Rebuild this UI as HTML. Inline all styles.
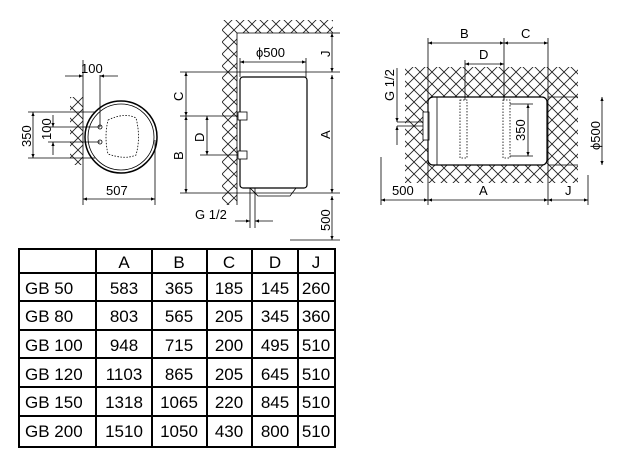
<!DOCTYPE html>
<html><head><style>
html,body{margin:0;padding:0;background:#fff;width:626px;height:466px;overflow:hidden}
svg{position:absolute;left:0;top:0}
text{font-family:"Liberation Sans",sans-serif;fill:#000}
</style></head><body>
<svg width="626" height="466" viewBox="0 0 626 466">
<defs>
<pattern id="h" width="12" height="12" patternUnits="userSpaceOnUse">
<path d="M0 0L12 12M12 0L0 12" stroke="#222" stroke-width="0.9"/>
</pattern>
<marker id="a" viewBox="0 0 10 10" refX="10" refY="5" markerWidth="7" markerHeight="5" orient="auto-start-reverse"><path d="M0 1L10 5L0 9z" fill="#000"/></marker>
</defs>
<g stroke="#000" stroke-width="0.8" fill="none">
<!-- left view -->
<rect x="70" y="97" width="13" height="68" fill="url(#h)" stroke="none"/>
<line x1="83" y1="60" x2="83" y2="205"/>
<circle cx="121" cy="137" r="36" stroke-width="1.5"/>
<circle cx="121" cy="137" r="33"/>
<path d="M108 120 Q125 112 136 118 Q141 137 136 155 Q125 160 108 154 Q104 137 108 120" stroke-dasharray="1.5 1.5"/>
<circle cx="100" cy="127" r="2"/><circle cx="100" cy="142" r="2"/>
<line x1="155" y1="140" x2="155" y2="205"/>
<line x1="100" y1="75" x2="100" y2="127"/>
<line x1="65" y1="76" x2="83" y2="76" marker-end="url(#a)"/>
<line x1="118" y1="76" x2="100" y2="76" marker-end="url(#a)"/>
<line x1="28" y1="112" x2="95" y2="112"/><line x1="28" y1="158" x2="95" y2="158"/>
<line x1="48" y1="127" x2="100" y2="127"/><line x1="48" y1="142" x2="100" y2="142"/>
<line x1="33" y1="112" x2="33" y2="158" marker-start="url(#a)" marker-end="url(#a)"/>
<line x1="53" y1="115" x2="53" y2="127" marker-end="url(#a)"/>
<line x1="53" y1="155" x2="53" y2="142" marker-end="url(#a)"/>
<line x1="83" y1="199" x2="155" y2="199" marker-start="url(#a)" marker-end="url(#a)"/>
<!-- middle view -->
<rect x="222" y="20" width="111" height="13" fill="url(#h)" stroke="none"/>
<rect x="222" y="33" width="15" height="172" fill="url(#h)" stroke="none"/>
<polyline points="237,205 237,33 333,33"/>
<rect x="240" y="77" width="67" height="111" rx="3" stroke-width="1.2"/>
<path d="M250 188 L258 196 L290 196 L296 188"/>
<line x1="250" y1="188" x2="250" y2="228"/><line x1="255" y1="188" x2="255" y2="228"/>
<rect x="238" y="112" width="9" height="8" fill="#fff"/><rect x="238" y="151" width="9" height="8" fill="#fff"/>
<line x1="180" y1="72" x2="340" y2="72"/><line x1="180" y1="193" x2="340" y2="193"/>
<line x1="290" y1="240" x2="340" y2="240"/><line x1="333" y1="33" x2="340" y2="33"/>
<line x1="180" y1="116" x2="238" y2="116"/><line x1="200" y1="155" x2="238" y2="155"/>
<line x1="332" y1="33" x2="332" y2="72" marker-start="url(#a)" marker-end="url(#a)"/>
<line x1="332" y1="75" x2="332" y2="193" marker-start="url(#a)" marker-end="url(#a)"/>
<line x1="332" y1="196" x2="332" y2="240" marker-start="url(#a)" marker-end="url(#a)"/>
<line x1="186" y1="72" x2="186" y2="116" marker-start="url(#a)" marker-end="url(#a)"/>
<line x1="186" y1="116" x2="186" y2="193" marker-start="url(#a)" marker-end="url(#a)"/>
<line x1="207" y1="116" x2="207" y2="155" marker-start="url(#a)" marker-end="url(#a)"/>
<line x1="240" y1="62" x2="306" y2="62" marker-start="url(#a)" marker-end="url(#a)"/>
<line x1="240" y1="58" x2="240" y2="77"/><line x1="306" y1="58" x2="306" y2="77"/>
<line x1="235" y1="221" x2="250" y2="221" marker-end="url(#a)"/>
<line x1="273" y1="221" x2="255" y2="221" marker-end="url(#a)"/>
<!-- right view -->
<rect x="405" y="67" width="173" height="116" fill="url(#h)" stroke="none"/>
<rect x="428" y="97" width="119" height="68" rx="5" fill="#fff" stroke-width="1.2"/>
<line x1="437" y1="97" x2="437" y2="165"/>
<rect x="423" y="112" width="6" height="28" fill="#fff"/>
<rect x="460" y="100" width="7" height="58" stroke-dasharray="1.5 1.5"/>
<rect x="503" y="100" width="7" height="58" stroke-dasharray="1.5 1.5"/>
<line x1="548" y1="97" x2="578" y2="97"/><line x1="548" y1="165" x2="578" y2="165"/>
<line x1="397" y1="122" x2="423" y2="122"/><line x1="397" y1="126" x2="423" y2="126"/>
<line x1="397" y1="68" x2="397" y2="122" marker-end="url(#a)"/>
<line x1="397" y1="145" x2="397" y2="126" marker-end="url(#a)"/>
<line x1="428" y1="38" x2="428" y2="205"/><line x1="548" y1="38" x2="548" y2="205"/>
<line x1="504" y1="38" x2="504" y2="100"/><line x1="465" y1="60" x2="465" y2="100"/>
<line x1="381" y1="157" x2="381" y2="205"/><line x1="588" y1="175" x2="588" y2="205"/>
<line x1="428" y1="43" x2="504" y2="43" marker-start="url(#a)" marker-end="url(#a)"/>
<line x1="504" y1="43" x2="548" y2="43" marker-start="url(#a)" marker-end="url(#a)"/>
<line x1="465" y1="64" x2="504" y2="64" marker-start="url(#a)" marker-end="url(#a)"/>
<line x1="428" y1="200" x2="548" y2="200" marker-start="url(#a)" marker-end="url(#a)"/>
<line x1="381" y1="200" x2="428" y2="200" marker-start="url(#a)" marker-end="url(#a)"/>
<line x1="548" y1="200" x2="588" y2="200" marker-start="url(#a)" marker-end="url(#a)"/>
<line x1="602" y1="97" x2="602" y2="165" marker-start="url(#a)" marker-end="url(#a)"/>
<line x1="510" y1="104" x2="533" y2="104"/><line x1="510" y1="156" x2="533" y2="156"/>
<line x1="528" y1="104" x2="528" y2="156" marker-start="url(#a)" marker-end="url(#a)"/>
</g>
<g font-size="13">
<text x="81" y="73">100</text>
<text x="106" y="195">507</text>
<text transform="translate(31,147) rotate(-90)">350</text>
<text transform="translate(51,140) rotate(-90)">100</text>
<text x="256" y="57">ϕ500</text>
<text transform="translate(330,57) rotate(-90)">J</text>
<text transform="translate(330,139) rotate(-90)">A</text>
<text transform="translate(330,231) rotate(-90)">500</text>
<text transform="translate(183,101) rotate(-90)">C</text>
<text transform="translate(183,160) rotate(-90)">B</text>
<text transform="translate(204,142) rotate(-90)">D</text>
<text x="195" y="219">G 1/2</text>
<text x="460" y="38">B</text><text x="521" y="38">C</text>
<text x="479" y="59">D</text>
<text x="479" y="195">A</text><text x="392" y="195">500</text><text x="565" y="195">J</text>
<text transform="translate(525,141) rotate(-90)">350</text>
<text transform="translate(600,150) rotate(-90)">ϕ500</text>
<text transform="translate(394,101) rotate(-90)">G 1/2</text>
</g>
<!-- table -->
<g stroke="#000" stroke-width="2" fill="none">
<rect x="19" y="249" width="316" height="198"/>
<path d="M96 249V447M152 249V447M207 249V447M252 249V447M298 249V447M19 273H335M19 301H335M19 330H335M19 358H335M19 387H335M19 416H335"/>
</g>
<g font-size="17" text-anchor="middle">
<text x="124" y="268">A</text><text x="179" y="268">B</text><text x="229" y="268">C</text><text x="275" y="268">D</text><text x="316" y="268">J</text>
<text x="124" y="294">583</text><text x="179" y="294">365</text><text x="229" y="294">185</text><text x="275" y="294">145</text><text x="316" y="294">260</text>
<text x="124" y="322">803</text><text x="179" y="322">565</text><text x="229" y="322">205</text><text x="275" y="322">345</text><text x="316" y="322">360</text>
<text x="124" y="351">948</text><text x="179" y="351">715</text><text x="229" y="351">200</text><text x="275" y="351">495</text><text x="316" y="351">510</text>
<text x="124" y="380">1103</text><text x="179" y="380">865</text><text x="229" y="380">205</text><text x="275" y="380">645</text><text x="316" y="380">510</text>
<text x="124" y="408">1318</text><text x="179" y="408">1065</text><text x="229" y="408">220</text><text x="275" y="408">845</text><text x="316" y="408">510</text>
<text x="124" y="437">1510</text><text x="179" y="437">1050</text><text x="229" y="437">430</text><text x="275" y="437">800</text><text x="316" y="437">510</text>
</g>
<g font-size="17">
<text x="25" y="294">GB 50</text><text x="25" y="322">GB 80</text><text x="25" y="351">GB 100</text>
<text x="25" y="380">GB 120</text><text x="25" y="408">GB 150</text><text x="25" y="437">GB 200</text>
</g>
</svg>
</body></html>
